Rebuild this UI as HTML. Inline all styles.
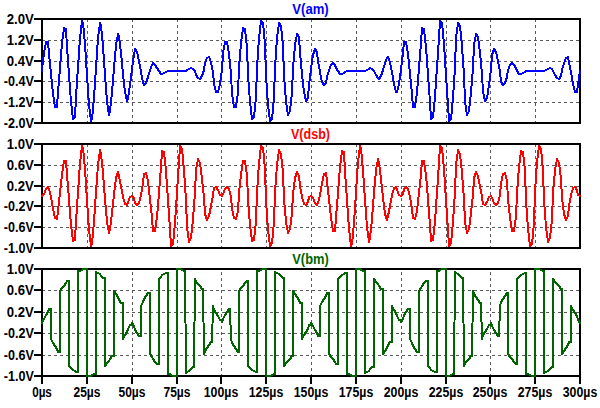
<!DOCTYPE html><html><head><meta charset="utf-8"><style>html,body{margin:0;padding:0;background:#fff;width:600px;height:408px;overflow:hidden}</style></head><body><svg width="600" height="408" viewBox="0 0 600 408" style="position:absolute;left:0;top:0">
<rect width="600" height="408" fill="#fff"/>
<g stroke="#5a5a5a" stroke-width="1" stroke-dasharray="3 3" shape-rendering="crispEdges"><line x1="42" y1="40.5" x2="580" y2="40.5"/><line x1="42" y1="61.5" x2="580" y2="61.5"/><line x1="42" y1="81.5" x2="580" y2="81.5"/><line x1="42" y1="102.5" x2="580" y2="102.5"/><line x1="87.5" y1="124" x2="87.5" y2="19"/><line x1="132.5" y1="124" x2="132.5" y2="19"/><line x1="177.5" y1="124" x2="177.5" y2="19"/><line x1="221.5" y1="124" x2="221.5" y2="19"/><line x1="266.5" y1="124" x2="266.5" y2="19"/><line x1="311.5" y1="124" x2="311.5" y2="19"/><line x1="356.5" y1="124" x2="356.5" y2="19"/><line x1="401.5" y1="124" x2="401.5" y2="19"/><line x1="446.5" y1="124" x2="446.5" y2="19"/><line x1="490.5" y1="124" x2="490.5" y2="19"/><line x1="535.5" y1="124" x2="535.5" y2="19"/></g>
<g stroke="#5a5a5a" stroke-width="1" stroke-dasharray="3 3" shape-rendering="crispEdges"><line x1="42" y1="165.5" x2="580" y2="165.5"/><line x1="42" y1="186.5" x2="580" y2="186.5"/><line x1="42" y1="206.5" x2="580" y2="206.5"/><line x1="42" y1="227.5" x2="580" y2="227.5"/><line x1="87.5" y1="249" x2="87.5" y2="144"/><line x1="132.5" y1="249" x2="132.5" y2="144"/><line x1="177.5" y1="249" x2="177.5" y2="144"/><line x1="221.5" y1="249" x2="221.5" y2="144"/><line x1="266.5" y1="249" x2="266.5" y2="144"/><line x1="311.5" y1="249" x2="311.5" y2="144"/><line x1="356.5" y1="249" x2="356.5" y2="144"/><line x1="401.5" y1="249" x2="401.5" y2="144"/><line x1="446.5" y1="249" x2="446.5" y2="144"/><line x1="490.5" y1="249" x2="490.5" y2="144"/><line x1="535.5" y1="249" x2="535.5" y2="144"/></g>
<g stroke="#5a5a5a" stroke-width="1" stroke-dasharray="3 3" shape-rendering="crispEdges"><line x1="42" y1="290.5" x2="580" y2="290.5"/><line x1="42" y1="312.5" x2="580" y2="312.5"/><line x1="42" y1="333.5" x2="580" y2="333.5"/><line x1="42" y1="355.5" x2="580" y2="355.5"/><line x1="87.5" y1="377" x2="87.5" y2="269"/><line x1="132.5" y1="377" x2="132.5" y2="269"/><line x1="177.5" y1="377" x2="177.5" y2="269"/><line x1="221.5" y1="377" x2="221.5" y2="269"/><line x1="266.5" y1="377" x2="266.5" y2="269"/><line x1="311.5" y1="377" x2="311.5" y2="269"/><line x1="356.5" y1="377" x2="356.5" y2="269"/><line x1="401.5" y1="377" x2="401.5" y2="269"/><line x1="446.5" y1="377" x2="446.5" y2="269"/><line x1="490.5" y1="377" x2="490.5" y2="269"/><line x1="535.5" y1="377" x2="535.5" y2="269"/></g>
<g stroke="#000" stroke-width="2" fill="none" shape-rendering="crispEdges"><rect x="42" y="19" width="538" height="104"/><path d="M34 19H42"/><path d="M34 40H42"/><path d="M34 61H42"/><path d="M34 81H42"/><path d="M34 102H42"/><path d="M34 123H42"/></g>
<g stroke="#000" stroke-width="2" fill="none" shape-rendering="crispEdges"><rect x="42" y="144" width="538" height="104"/><path d="M34 144H42"/><path d="M34 165H42"/><path d="M34 186H42"/><path d="M34 206H42"/><path d="M34 227H42"/><path d="M34 248H42"/></g>
<g stroke="#000" stroke-width="2" fill="none" shape-rendering="crispEdges"><rect x="42" y="269" width="538" height="107"/><path d="M34 269H42"/><path d="M34 290H42"/><path d="M34 312H42"/><path d="M34 333H42"/><path d="M34 355H42"/><path d="M34 376H42"/><path d="M42 376V384"/><path d="M87 376V384"/><path d="M132 376V384"/><path d="M177 376V384"/><path d="M221 376V384"/><path d="M266 376V384"/><path d="M311 376V384"/><path d="M356 376V384"/><path d="M401 376V384"/><path d="M446 376V384"/><path d="M490 376V384"/><path d="M535 376V384"/><path d="M580 376V384"/></g>
<polyline points="42,71 42,69 44,53 46,42 48,42 49,54 51,74 53,94 55,107 57,107 58,92 60,68 62,43 64,28 66,29 67,47 69,75 71,102 73,119 75,117 76,97 78,67 80,38 82,21 83,23 85,44 87,75 89,105 91,121 92,119 94,98 96,67 98,38 100,23 101,26 103,46 105,75 107,101 109,115 110,111 112,93 114,68 116,45 118,34 119,37 121,53 123,74 125,92 127,101 128,98 130,85 132,69 134,55 135,49 137,52 139,61 141,72 143,82 144,85 146,83 148,77 150,70 152,65 153,63 155,65 157,68 159,71 161,74 162,74 164,73 166,72 168,71 170,71 171,71 173,71 175,71 177,71 179,71 180,71 182,71 184,71 186,71 187,70 189,69 191,68 193,69 195,71 196,75 198,78 200,79 202,76 204,70 205,63 207,58 209,57 211,62 213,72 214,84 216,92 218,92 220,84 222,69 223,53 225,42 227,42 229,54 231,74 232,94 234,107 236,107 238,92 239,68 241,43 243,28 245,29 247,47 248,75 250,102 252,119 254,117 256,97 257,67 259,38 261,21 263,23 265,44 266,75 268,105 270,121 272,119 274,98 275,67 277,38 279,23 281,26 283,46 284,75 286,101 288,115 290,111 292,93 293,68 295,45 297,34 299,37 300,53 302,74 304,92 306,101 308,98 309,85 311,69 313,55 315,49 317,52 318,61 320,72 322,82 324,85 326,83 327,77 329,70 331,65 333,63 335,65 336,68 338,71 340,74 342,74 344,73 345,72 347,71 349,71 351,71 352,71 354,71 356,71 358,71 360,71 361,71 363,71 365,71 367,70 369,69 370,68 372,69 374,71 376,75 378,78 379,79 381,76 383,70 385,63 387,58 388,57 390,62 392,72 394,84 396,92 397,92 399,84 401,69 403,53 404,42 406,42 408,54 410,74 412,94 413,107 415,107 417,92 419,68 421,43 422,28 424,29 426,47 428,75 430,102 431,119 433,117 435,97 437,67 439,38 440,21 442,23 444,44 446,75 448,105 449,121 451,119 453,98 455,67 456,38 458,23 460,26 462,46 464,75 465,101 467,115 469,111 471,93 473,68 474,45 476,34 478,37 480,53 482,74 483,92 485,101 487,98 489,85 491,69 492,55 494,49 496,52 498,61 500,72 501,82 503,85 505,83 507,77 508,70 510,65 512,63 514,65 516,68 517,71 519,74 521,74 523,73 525,72 526,71 528,71 530,71 532,71 534,71 535,71 537,71 539,71 541,71 543,71 544,71 546,70 548,69 550,68 552,69 553,71 555,75 557,78 559,79 561,76 562,70 564,63 566,58 568,57 569,62 571,72 573,84 575,92 577,92 578,84 580,71" fill="none" stroke="#0000ff" stroke-width="2" stroke-linejoin="round" stroke-linecap="round" shape-rendering="crispEdges"/>
<polyline points="42,196 44,194 46,189 48,187 49,189 51,197 53,209 55,218 57,219 58,211 60,193 62,174 64,161 66,161 67,175 69,199 71,225 73,241 75,240 76,221 78,192 80,163 82,146 83,148 85,169 87,200 89,230 91,246 92,243 94,222 96,192 98,165 100,150 101,154 103,173 105,199 107,222 109,233 110,229 112,213 114,194 116,178 118,172 119,176 121,186 123,197 125,204 127,205 128,202 130,197 132,196 134,198 135,203 137,205 139,203 141,195 143,183 144,174 146,173 148,181 150,199 152,218 153,231 155,231 157,217 159,193 161,167 162,151 164,152 166,171 168,200 170,229 171,246 173,244 175,223 177,192 179,162 180,146 182,149 184,170 186,200 187,227 189,242 191,238 193,219 195,193 196,170 198,159 200,163 202,179 204,198 205,214 207,220 209,216 211,206 213,195 214,188 216,187 218,190 220,195 222,196 223,194 225,189 227,187 229,189 231,197 232,209 234,218 236,219 238,211 239,193 241,174 243,161 245,161 247,175 248,199 250,225 252,241 254,240 256,221 257,192 259,163 261,146 263,148 265,169 266,200 268,230 270,246 272,243 274,222 275,192 277,165 279,150 281,154 283,173 284,199 286,222 288,233 290,229 292,213 293,194 295,178 297,172 299,176 300,186 302,197 304,204 306,205 308,202 309,197 311,196 313,198 315,203 317,205 318,203 320,195 322,183 324,174 326,173 327,181 329,199 331,218 333,231 335,231 336,217 338,193 340,167 342,151 344,152 345,171 347,200 349,229 351,246 352,244 354,223 356,192 358,162 360,146 361,149 363,170 365,200 367,227 369,242 370,238 372,219 374,193 376,170 378,159 379,163 381,179 383,198 385,214 387,220 388,216 390,206 392,195 394,188 396,187 397,190 399,195 401,196 403,194 404,189 406,187 408,189 410,197 412,209 413,218 415,219 417,211 419,193 421,174 422,161 424,161 426,175 428,199 430,225 431,241 433,240 435,221 437,192 439,163 440,146 442,148 444,169 446,200 448,230 449,246 451,243 453,222 455,192 456,165 458,150 460,154 462,173 464,199 465,222 467,233 469,229 471,213 473,194 474,178 476,172 478,176 480,186 482,197 483,204 485,205 487,202 489,197 491,196 492,198 494,203 496,205 498,203 500,195 501,183 503,174 505,173 507,181 508,199 510,218 512,231 514,231 516,217 517,193 519,167 521,151 523,152 525,171 526,200 528,229 530,246 532,244 534,223 535,192 537,162 539,146 541,149 543,170 544,200 546,227 548,242 550,238 552,219 553,193 555,170 557,159 559,163 561,179 562,198 564,214 566,220 568,216 569,206 571,195 573,188 575,187 577,190 578,195 580,196" fill="none" stroke="#ff0000" stroke-width="2" stroke-linejoin="round" stroke-linecap="round" shape-rendering="crispEdges"/>
<polyline points="42,323 42,322 44,319 46,315 48,312 49,309 51,309 51,339 53,343 55,346 57,349 58,352 60,352 60,291 62,288 64,286 66,283 67,281 69,281 69,366 71,368 73,370 75,371 76,372 78,372 78,271 80,271 82,270 83,269 85,269 87,269 87,376 89,376 91,376 92,375 94,374 96,374 96,272 98,273 100,274 101,276 103,278 105,278 105,366 107,363 109,361 110,359 112,356 114,356 114,291 116,294 118,297 119,300 121,303 123,303 123,339 125,335 127,332 128,329 130,325 132,325 132,323 134,326 135,330 137,333 139,336 141,336 141,306 143,302 144,299 146,296 148,293 150,293 150,354 152,357 153,359 155,362 157,364 159,364 159,279 161,277 162,275 164,274 166,273 168,273 168,374 170,374 171,375 173,376 175,376 177,376 177,269 179,269 180,269 182,270 184,271 185,271 186,373 187,372 189,371 191,369 193,367 194,367 195,279 196,282 198,284 200,286 202,289 203,289 204,354 205,351 207,348 209,345 211,342 212,342 213,306 214,310 216,313 218,316 220,320 221,320 222,322 223,319 225,315 227,312 229,309 230,309 231,339 232,343 234,346 236,349 238,352 239,352 239,291 241,288 243,286 245,283 247,281 248,281 248,366 250,368 252,370 254,371 256,372 257,372 257,271 259,271 261,270 263,269 265,269 266,269 266,376 268,376 270,376 272,375 274,374 275,374 275,272 277,273 279,274 281,276 283,278 284,278 284,366 286,363 288,361 290,359 292,356 293,356 293,291 295,294 297,297 299,300 300,303 302,303 302,339 304,335 306,332 308,329 309,325 311,325 311,323 313,326 315,330 317,333 318,336 320,336 320,306 322,302 324,299 326,296 327,293 329,293 329,354 331,357 333,359 335,362 336,364 338,364 338,279 340,277 342,275 344,274 345,273 347,273 347,374 349,374 351,375 352,376 354,376 356,376 356,269 358,269 360,269 361,270 363,271 365,271 365,373 367,372 369,371 370,369 372,367 374,367 374,279 376,282 378,284 379,286 381,289 383,289 383,354 385,351 387,348 388,345 390,342 392,342 392,306 394,310 396,313 397,316 399,320 401,320 401,322 403,319 404,315 406,312 408,309 410,309 410,339 412,343 413,346 415,349 417,352 419,352 419,291 421,288 422,286 424,283 426,281 428,281 428,366 430,368 431,370 433,371 435,372 437,372 437,271 439,271 440,270 442,269 444,269 446,269 446,376 448,376 449,376 451,375 453,374 454,374 455,272 456,273 458,274 460,276 462,278 463,278 464,366 465,363 467,361 469,359 471,356 472,356 473,291 474,294 476,297 478,300 480,303 481,303 482,339 483,335 485,332 487,329 489,325 490,325 491,323 492,326 494,330 496,333 498,336 499,336 500,306 501,302 503,299 505,296 507,293 508,293 508,354 510,357 512,359 514,362 516,364 517,364 517,279 519,277 521,275 523,274 525,273 526,273 526,374 528,374 530,375 532,376 534,376 535,376 535,269 537,269 539,269 541,270 543,271 544,271 544,373 546,372 548,371 550,369 552,367 553,367 553,279 555,282 557,284 559,286 561,289 562,289 562,354 564,351 566,348 568,345 569,342 571,342 571,306 573,310 575,313 577,316 578,320 580,323" fill="none" stroke="#006400" stroke-width="2" stroke-linejoin="round" stroke-linecap="round" shape-rendering="crispEdges"/>
<g font-family="Liberation Sans" font-weight="bold" font-size="14" fill="#000"><text x="6.80" y="24" textLength="27" lengthAdjust="spacingAndGlyphs">2.0V</text><text x="6.80" y="45" textLength="27" lengthAdjust="spacingAndGlyphs">1.2V</text><text x="6.80" y="66" textLength="27" lengthAdjust="spacingAndGlyphs">0.4V</text><text x="3.80" y="86" textLength="30" lengthAdjust="spacingAndGlyphs">-0.4V</text><text x="3.80" y="107" textLength="30" lengthAdjust="spacingAndGlyphs">-1.2V</text><text x="3.80" y="128" textLength="30" lengthAdjust="spacingAndGlyphs">-2.0V</text><text x="292.25" y="14" textLength="36.5" lengthAdjust="spacingAndGlyphs" fill="#0000ff">V(am)</text><text x="6.80" y="149" textLength="27" lengthAdjust="spacingAndGlyphs">1.0V</text><text x="6.80" y="170" textLength="27" lengthAdjust="spacingAndGlyphs">0.6V</text><text x="6.80" y="191" textLength="27" lengthAdjust="spacingAndGlyphs">0.2V</text><text x="3.80" y="211" textLength="30" lengthAdjust="spacingAndGlyphs">-0.2V</text><text x="3.80" y="232" textLength="30" lengthAdjust="spacingAndGlyphs">-0.6V</text><text x="3.80" y="253" textLength="30" lengthAdjust="spacingAndGlyphs">-1.0V</text><text x="291.00" y="139" textLength="39" lengthAdjust="spacingAndGlyphs" fill="#ff0000">V(dsb)</text><text x="6.80" y="274" textLength="27" lengthAdjust="spacingAndGlyphs">1.0V</text><text x="6.80" y="295" textLength="27" lengthAdjust="spacingAndGlyphs">0.6V</text><text x="6.80" y="317" textLength="27" lengthAdjust="spacingAndGlyphs">0.2V</text><text x="3.80" y="338" textLength="30" lengthAdjust="spacingAndGlyphs">-0.2V</text><text x="3.80" y="360" textLength="30" lengthAdjust="spacingAndGlyphs">-0.6V</text><text x="3.80" y="381" textLength="30" lengthAdjust="spacingAndGlyphs">-1.0V</text><text x="292.25" y="264" textLength="36.5" lengthAdjust="spacingAndGlyphs" fill="#006400">V(bm)</text><text x="32.15" y="397" textLength="19.7" lengthAdjust="spacingAndGlyphs">0µs</text><text x="73.50" y="397" textLength="27" lengthAdjust="spacingAndGlyphs">25µs</text><text x="118.50" y="397" textLength="27" lengthAdjust="spacingAndGlyphs">50µs</text><text x="163.50" y="397" textLength="27" lengthAdjust="spacingAndGlyphs">75µs</text><text x="203.75" y="397" textLength="34.5" lengthAdjust="spacingAndGlyphs">100µs</text><text x="248.75" y="397" textLength="34.5" lengthAdjust="spacingAndGlyphs">125µs</text><text x="293.75" y="397" textLength="34.5" lengthAdjust="spacingAndGlyphs">150µs</text><text x="338.75" y="397" textLength="34.5" lengthAdjust="spacingAndGlyphs">175µs</text><text x="383.75" y="397" textLength="34.5" lengthAdjust="spacingAndGlyphs">200µs</text><text x="428.75" y="397" textLength="34.5" lengthAdjust="spacingAndGlyphs">225µs</text><text x="472.75" y="397" textLength="34.5" lengthAdjust="spacingAndGlyphs">250µs</text><text x="517.75" y="397" textLength="34.5" lengthAdjust="spacingAndGlyphs">275µs</text><text x="562.75" y="397" textLength="34.5" lengthAdjust="spacingAndGlyphs">300µs</text></g>
</svg></body></html>
